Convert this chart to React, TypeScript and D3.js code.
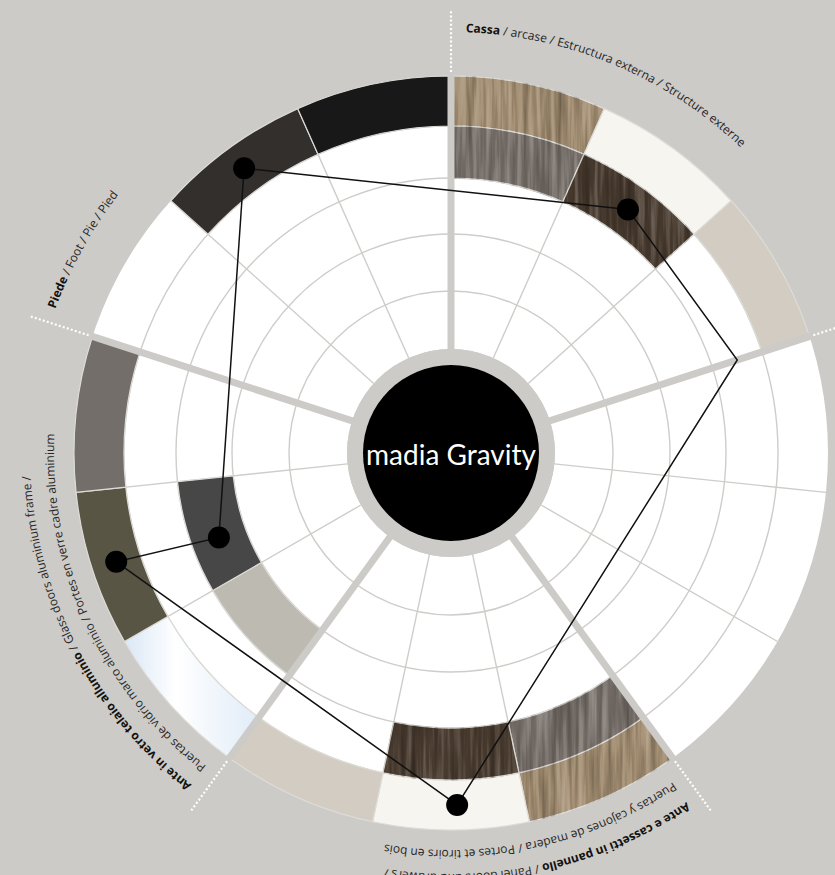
import React from "react";
import * as d3 from "d3";

const W = 835;
const H = 875;
const CX = 451;
const CY = 453;

// Structure: 5 sections, each split into 3 sub-sectors, 5 rings
const sectionNames = ["Cassa", "", "Ante e cassetti in pannello", "Ante in vetro telaio alluminio", "Piede"];
const subPerSection = 3;
const ringEdges = [104, 162, 219, 275, 327, 377];

// Coloured cells: sub-sector index (0..14, clockwise from top), ring (1 = inner .. 5 = outer), swatch
const cellSubs = [0, 0, 1, 1, 2, 6, 6, 7, 7, 8, 9, 9, 10, 10, 11, 13, 14];
const cellRings = [5, 4, 5, 4, 5, 5, 4, 5, 4, 5, 5, 3, 5, 3, 5, 5, 5];
const cellSwatches = [
  "lightWood", "grayWood", "offWhite", "darkWood", "beige",
  "lightWood", "grayWood", "offWhite", "darkWood", "beige",
  "glass", "greige", "olive", "darkGray", "stone", "charcoal", "black",
];

// Selected configuration (closed path): angle in degrees, ring index, dot drawn
const pathAngles = [324, 36, 72, 179, 252, 250];
const pathRings = [5, 4, 4, 5, 5, 3];
const pathDots = [true, true, false, true, true, true];

// Curved labels
const labelSection = [0, 2, 2, 3, 3, 4];
const labelLine = [0, 0, 1, 0, 1, 0];
const labelBold = ["Cassa", "Ante e cassetti in pannello", "", "Ante in vetro telaio alluminio", "", "Piede"];
const labelRest = [
  " / arcase / Estructura externa / Structure externe",
  " / Panel doors and drawers /",
  "Puertas y cajones de madera / Portes et tiroirs en bois",
  " / Glass doors aluminium frame /",
  "Puertas de vidrio marco aluminio / Portes en verre cadre aluminium",
  " / Foot / Pie / Pied",
];

const centerTitle = "madia Gravity";

const BG = "#cdcbc7";
const GRID = "#cfcdc9";

const swatchFill: Record<string, string> = {
  lightWood: "#a38e72",
  grayWood: "#7a726c",
  offWhite: "#f6f5f0",
  darkWood: "#4b3d31",
  beige: "#d2ccc2",
  glass: "url(#glassGrad)",
  greige: "#bdbbb1",
  olive: "#595545",
  darkGray: "#474747",
  stone: "#736e69",
  charcoal: "#332f2d",
  black: "#181818",
};
const woodSwatches = new Set(["lightWood", "grayWood", "darkWood"]);

const nSubs = sectionNames.length * subPerSection;
const angleScale = d3.scaleLinear().domain([0, nSubs]).range([0, 2 * Math.PI]);
const degToRad = d3.scaleLinear().domain([0, 360]).range([0, 2 * Math.PI]);

function polar(angleRad: number, r: number): [number, number] {
  return [CX + r * Math.sin(angleRad), CY - r * Math.cos(angleRad)];
}

function ringMid(ring: number) {
  return (ringEdges[ring - 1] + ringEdges[ring]) / 2;
}

function arcPathD(a0: number, a1: number, r: number) {
  const [x0, y0] = polar(a0, r);
  const [x1, y1] = polar(a1, r);
  const large = a1 - a0 > Math.PI ? 1 : 0;
  return `M${x0},${y0} A${r},${r} 0 ${large} 1 ${x1},${y1}`;
}

export default function App() {
  const arcGen = d3.arc<any>();
  const outerR = ringEdges[ringEdges.length - 1];
  const innerR = ringEdges[0];

  const sectionAngles = d3.range(sectionNames.length).map((i) => angleScale(i * subPerSection));
  const spokeAngles = d3.range(nSubs).filter((i) => i % subPerSection !== 0).map((i) => angleScale(i));

  const pts = pathAngles.map((a, i) => polar(degToRad(a), ringMid(pathRings[i])));
  const line = d3.line().curve(d3.curveLinearClosed)(pts as [number, number][]);

  const labelRadii = [421, 397];
  const labelFont = "'Open Sans', 'DejaVu Sans', sans-serif";

  return (
    <svg
      width={W}
      height={H}
      viewBox={`0 0 ${W} ${H}`}
      style={{ position: "absolute", left: 0, top: 0, display: "block" }}
    >
      <defs>
        <linearGradient id="glassGrad" x1="0" y1="0" x2="1" y2="0">
          <stop offset="0%" stopColor="#d9e7f6" />
          <stop offset="38%" stopColor="#ffffff" />
          <stop offset="100%" stopColor="#e1ecf8" />
        </linearGradient>
        <filter id="grain" colorInterpolationFilters="sRGB">
          <feTurbulence type="fractalNoise" baseFrequency="0.18 0.01" numOctaves={3} seed={7} result="n" />
          <feColorMatrix in="n" type="matrix" values="0 0 0 0 0  0 0 0 0 0  0 0 0 0 0  0.75 0 0 0 -0.33" result="dk" />
          <feComposite in="dk" in2="SourceGraphic" operator="in" result="dkc" />
          <feColorMatrix in="n" type="matrix" values="0 0 0 0 1  0 0 0 0 1  0 0 0 0 1  -0.6 0 0 0 0.3" result="lt" />
          <feComposite in="lt" in2="SourceGraphic" operator="in" result="ltc" />
          <feMerge>
            <feMergeNode in="SourceGraphic" />
            <feMergeNode in="dkc" />
            <feMergeNode in="ltc" />
          </feMerge>
        </filter>
        {labelSection.map((s, i) => {
          const a0 = sectionAngles[s] + degToRad(2);
          return (
            <path key={i} id={`lbl${i}`} d={arcPathD(a0, a0 + degToRad(110), labelRadii[labelLine[i]])} fill="none" />
          );
        })}
      </defs>

      <rect x={0} y={0} width={W} height={H} fill={BG} />

      {/* white disc */}
      <path
        d={arcGen({ innerRadius: innerR, outerRadius: outerR, startAngle: 0, endAngle: 2 * Math.PI }) || ""}
        transform={`translate(${CX},${CY})`}
        fill="#ffffff"
      />

      {/* grid circles */}
      {ringEdges.slice(1, -1).map((r, i) => (
        <circle key={i} cx={CX} cy={CY} r={r} fill="none" stroke={GRID} strokeWidth={1.4} />
      ))}
      {/* thin spokes */}
      {spokeAngles.map((a, i) => {
        const [x0, y0] = polar(a, innerR);
        const [x1, y1] = polar(a, outerR);
        return <line key={i} x1={x0} y1={y0} x2={x1} y2={y1} stroke={GRID} strokeWidth={1.4} />;
      })}

      {/* coloured cells */}
      <g transform={`translate(${CX},${CY})`}>
        {cellSubs.map((s, i) => {
          const sw = cellSwatches[i];
          const d = arcGen({
            innerRadius: ringEdges[cellRings[i] - 1],
            outerRadius: ringEdges[cellRings[i]],
            startAngle: angleScale(s),
            endAngle: angleScale(s + 1),
          });
          return (
            <path
              key={i}
              d={d || ""}
              fill={swatchFill[sw]}
              stroke="#dddbd7"
              strokeWidth={1.2}
              filter={woodSwatches.has(sw) ? "url(#grain)" : undefined}
            />
          );
        })}
      </g>

      {/* section separators */}
      {sectionAngles.map((a, i) => {
        const [x0, y0] = polar(a, 90);
        const [x1, y1] = polar(a, outerR + 1);
        const [x2, y2] = polar(a, outerR + 4);
        const [x3, y3] = polar(a, 443);
        return (
          <g key={i}>
            <line x1={x0} y1={y0} x2={x1} y2={y1} stroke={BG} strokeWidth={7} />
            <line x1={x2} y1={y2} x2={x3} y2={y3} stroke="#ffffff" strokeWidth={2.2} strokeDasharray="2 2.2" />
          </g>
        );
      })}

      {/* centre */}
      <circle cx={CX} cy={CY} r={innerR} fill={BG} />
      <circle cx={CX} cy={CY} r={88} fill="#000000" />
      <text
        x={CX}
        y={CY + 12}
        textAnchor="middle"
        fill="#ffffff"
        fontFamily="Lato, 'Open Sans', sans-serif"
        fontSize={28}
      >
        {centerTitle}
      </text>

      {/* configuration path */}
      <path d={line || ""} fill="none" stroke="#111111" strokeWidth={1.5} />
      {pts.map((p, i) =>
        pathDots[i] ? <circle key={i} cx={p[0]} cy={p[1]} r={11} fill="#000000" /> : null
      )}

      {/* labels */}
      {labelSection.map((s, i) => (
        <text key={i} fontFamily={labelFont} fontSize={12} fill="#262626">
          <textPath href={`#lbl${i}`}>
            {labelBold[i] ? (
              <tspan fontWeight="bold" fill="#111">
                {labelBold[i]}
              </tspan>
            ) : null}
            <tspan>{labelRest[i]}</tspan>
          </textPath>
        </text>
      ))}
    </svg>
  );
}
